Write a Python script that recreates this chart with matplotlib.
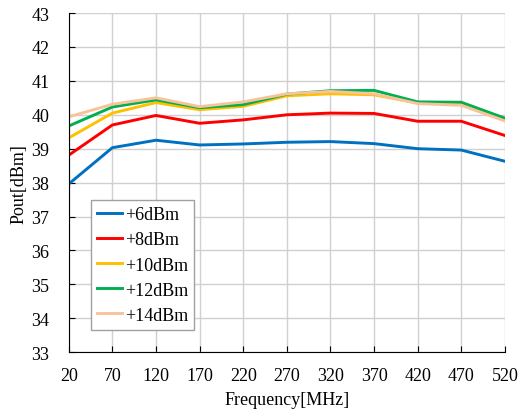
import matplotlib
matplotlib.use('Agg')
import matplotlib.pyplot as plt

freq = [20, 70, 120, 170, 220, 270, 320, 370, 420, 470, 520]
p6 = [37.96, 39.03, 39.25, 39.11, 39.14, 39.19, 39.21, 39.15, 39.00, 38.96, 38.63]
p8 = [38.81, 39.70, 39.98, 39.75, 39.85, 40.00, 40.05, 40.04, 39.81, 39.81, 39.39]
p10 = [39.32, 40.05, 40.36, 40.15, 40.25, 40.56, 40.62, 40.59, 40.35, 40.32, 39.85]
p12 = [39.67, 40.23, 40.44, 40.21, 40.30, 40.61, 40.71, 40.72, 40.38, 40.37, 39.90]
p14 = [39.94, 40.31, 40.50, 40.24, 40.38, 40.62, 40.69, 40.62, 40.33, 40.28, 39.82]
labels = ['+6dBm', '+8dBm', '+10dBm', '+12dBm', '+14dBm']
colors = ['#0070C0', '#FF0000', '#FFC000', '#00B050', '#F8C39B']

plt.rcParams['font.family'] = ['Liberation Serif', 'DejaVu Serif']
plt.rcParams['font.size'] = 13

fig = plt.figure(figsize=(5.21, 4.14), dpi=100)
ax = fig.add_axes([0.132, 0.147, 0.837, 0.819])

for ys, lab, c in zip([p6, p8, p10, p12, p14], labels, colors):
    ax.plot(freq, ys, color=c, lw=2.1, label=lab, solid_joinstyle='miter')

ax.set_xlim(20, 520)
ax.set_ylim(33, 43)
ax.set_xticks(freq)
ax.set_yticks(range(33, 44))
ax.grid(True, color='#d0d0d0', lw=1)
ax.set_axisbelow(True)
for s in ['top', 'right']:
    ax.spines[s].set_visible(False)
ax.spines['left'].set_color('black')
ax.spines['bottom'].set_color('black')
ax.tick_params(direction='in', length=4, width=0.8)
ax.tick_params(axis='x', pad=11)
ax.tick_params(axis='y', pad=14)

ax.set_xlabel('Frequency[MHz]', labelpad=5)
ax.set_ylabel('Pout[dBm]', labelpad=3)

leg = ax.legend(loc='lower left', bbox_to_anchor=(0.05, 0.065), borderaxespad=0,
                fancybox=False, edgecolor='#a0a0a0', framealpha=1,
                handlelength=1.4, handletextpad=0.15, labelspacing=0.45,
                borderpad=0.35)
leg.get_frame().set_linewidth(1)

plt.savefig('out.png', dpi=100)
plt.close()
